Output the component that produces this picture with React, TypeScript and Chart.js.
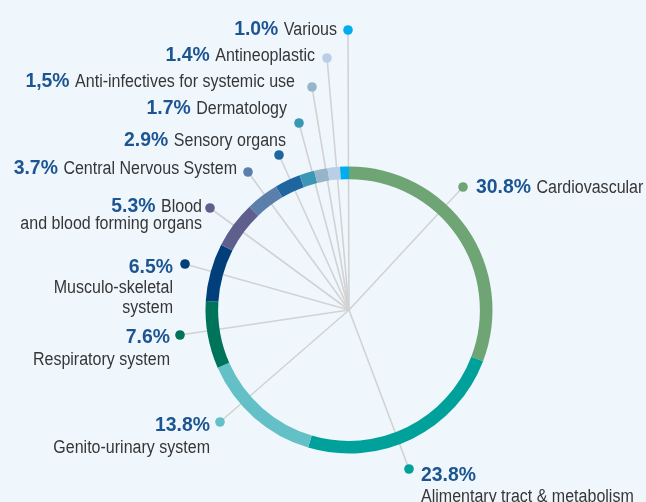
import React, { useEffect, useRef } from "react";
import { Chart, registerables } from "chart.js";

Chart.register(...registerables);

const categories = [
  "Cardiovascular",
  "Alimentary tract & metabolism",
  "Genito-urinary system",
  "Respiratory system",
  "Musculo-skeletal\nsystem",
  "Blood\nand blood forming organs",
  "Central Nervous System",
  "Sensory organs",
  "Dermatology",
  "Anti-infectives for systemic use",
  "Antineoplastic",
  "Various",
];

const shares = [30.8, 23.8, 13.8, 7.6, 6.5, 5.3, 3.7, 2.9, 1.7, 1.5, 1.4, 1.0];

const shareLabels = ["30.8%", "23.8%", "13.8%", "7.6%", "6.5%", "5.3%", "3.7%", "2.9%", "1.7%", "1,5%", "1.4%", "1.0%"];

const colors = [
  "#6fa475", "#00a19b", "#63c0c6", "#00735b", "#003f79", "#5f5f8e",
  "#5a7fab", "#1f66a0", "#3a97b6", "#97b5c9", "#b9cfe7", "#00aeef",
];

// Annotation layout: dot offset from ring centre, text offset from dot, alignment, whether the first name line sits next to the percentage
const labelLayout = [
  { dx: 114, dy: -123, tx: 13, ty: 6, align: "left", inline: true, lh: 21 },
  { dx: 60, dy: 159, tx: 12, ty: 12, align: "left", inline: false, lh: 21 },
  { dx: -129, dy: 112, tx: -10, ty: 9, align: "right", inline: false, lh: 22 },
  { dx: -169, dy: 25, tx: -10, ty: 8, align: "right", inline: false, lh: 22 },
  { dx: -164, dy: -46, tx: -12, ty: 9, align: "right", inline: false, lh: 20 },
  { dx: -139, dy: -102, tx: -8, ty: 4, align: "right", inline: true, lh: 17 },
  { dx: -101, dy: -138, tx: -11, ty: 2, align: "right", inline: true, lh: 20 },
  { dx: -70, dy: -155, tx: 7, ty: -9, align: "right", inline: true, lh: 20 },
  { dx: -50, dy: -187, tx: -12, ty: -9, align: "right", inline: true, lh: 20 },
  { dx: -37, dy: -223, tx: -17, ty: 0, align: "right", inline: true, lh: 20 },
  { dx: -22, dy: -252, tx: -12, ty: 3, align: "right", inline: true, lh: 20 },
  { dx: -1, dy: -280, tx: -11, ty: 5, align: "right", inline: true, lh: 20 },
];

const BG = "#eff7fd";
const PCT_FONT = "bold 20px 'Liberation Sans', Arial, sans-serif";
const PCT_SCALE = 0.97;
const NAME_FONT = "18px 'Liberation Sans', Arial, sans-serif";
const NAME_SCALE = 0.89;
const PCT_COLOR = "#1c5592";
const NAME_COLOR = "#363636";

function getCenter(chart: any) {
  const arc = chart.getDatasetMeta(0).data[0] as any;
  return { x: arc.x, y: arc.y };
}

function drawScaled(ctx: CanvasRenderingContext2D, text: string, x: number, y: number, sx: number) {
  ctx.save();
  ctx.translate(x, y);
  ctx.scale(sx, 1);
  ctx.fillText(text, 0, 0);
  ctx.restore();
}

const leaderPlugin = {
  id: "leaders",
  beforeDatasetsDraw(chart: any) {
    const ctx = chart.ctx;
    const c = getCenter(chart);
    ctx.save();
    ctx.strokeStyle = "#d2d2d2";
    ctx.lineWidth = 1.6;
    labelLayout.forEach((l) => {
      ctx.beginPath();
      ctx.moveTo(c.x, c.y);
      ctx.lineTo(c.x + l.dx, c.y + l.dy);
      ctx.stroke();
    });
    ctx.restore();
  },
  afterDatasetsDraw(chart: any) {
    const ctx = chart.ctx as CanvasRenderingContext2D;
    const c = getCenter(chart);
    ctx.save();
    labelLayout.forEach((l, i) => {
      const px = c.x + l.dx;
      const py = c.y + l.dy;
      ctx.fillStyle = colors[i];
      ctx.beginPath();
      ctx.arc(px, py, 4.8, 0, Math.PI * 2);
      ctx.fill();

      const nameLines = categories[i].split("\n");
      const lines: { pct?: string; name?: string }[] = [];
      if (l.inline) {
        lines.push({ pct: shareLabels[i], name: nameLines[0] });
        nameLines.slice(1).forEach((n) => lines.push({ name: n }));
      } else {
        lines.push({ pct: shareLabels[i] });
        nameLines.forEach((n) => lines.push({ name: n }));
      }
      const ax = px + l.tx;
      let by = py + l.ty;
      ctx.textBaseline = "alphabetic";
      ctx.textAlign = "left";
      lines.forEach((ln) => {
        ctx.font = PCT_FONT;
        const pw = ln.pct ? ctx.measureText(ln.pct).width * PCT_SCALE : 0;
        ctx.font = NAME_FONT;
        const gap = ln.pct && ln.name ? 5.5 : 0;
        const nw = ln.name ? ctx.measureText(ln.name).width * NAME_SCALE : 0;
        const total = pw + gap + nw;
        let x = l.align === "right" ? ax - total : ax;
        if (ln.pct) {
          ctx.font = PCT_FONT;
          ctx.fillStyle = PCT_COLOR;
          drawScaled(ctx, ln.pct, x, by, PCT_SCALE);
          x += pw + gap;
        }
        if (ln.name) {
          ctx.font = NAME_FONT;
          ctx.fillStyle = NAME_COLOR;
          drawScaled(ctx, ln.name, x, by, NAME_SCALE);
        }
        by += l.lh;
      });
    });
    ctx.restore();
  },
};

export default function App() {
  const ref = useRef<HTMLCanvasElement>(null);
  useEffect(() => {
    if (!ref.current) return;
    const chart = new Chart(ref.current, {
      type: "doughnut",
      data: {
        labels: categories.map((c) => c.replace("\n", " ")),
        datasets: [
          {
            data: shares,
            backgroundColor: colors,
            borderWidth: 0,
            offset: 0,
            hoverOffset: 0,
          },
        ],
      },
      options: {
        responsive: false,
        animation: false,
        cutout: "91.2%",
        layout: { padding: { left: 205.5, right: 153.5, top: 166.5, bottom: 48.5 } },
        plugins: { legend: { display: false }, tooltip: { enabled: false } },
        events: [],
      },
      plugins: [leaderPlugin],
    });
    return () => chart.destroy();
  }, []);
  return (
    <div style={{ position: "absolute", left: 0, top: 0, width: 646, height: 502, background: BG, overflow: "hidden" }}>
      <canvas ref={ref} width={646} height={502} style={{ display: "block" }} />
    </div>
  );
}
